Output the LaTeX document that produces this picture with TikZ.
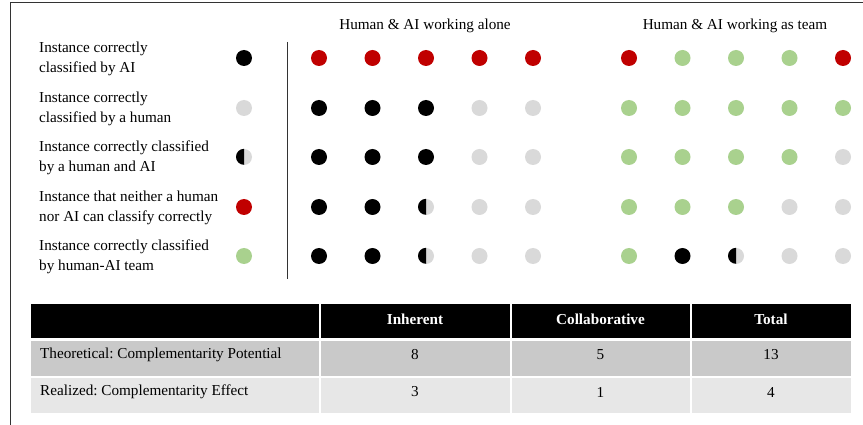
\documentclass[tikz,border=0pt]{standalone}
\usepackage{fontspec}
\setmainfont{Liberation Serif}
\frenchspacing
\definecolor{dred}{HTML}{C00000}
\definecolor{dgreen}{HTML}{A9D18E}
\definecolor{dgray}{HTML}{D9D9D9}
\definecolor{rowa}{HTML}{C9C9C9}
\definecolor{rowb}{HTML}{E7E7E7}
\newcommand{\fnt}{\fontsize{15.2}{20}\selectfont}
\tikzset{
  dot/.style={circle,inner sep=0pt,minimum size=16pt},
  K/.style={dot,fill=black},
  L/.style={dot,fill=dgray},
  R/.style={dot,fill=dred},
  G/.style={dot,fill=dgreen},
  H/.style={dot,fill=dgray},
  lbl/.style={anchor=west,align=left,inner sep=0pt,font=\fnt},
  hdr/.style={inner sep=0pt,font=\fnt},
  cell/.style={minimum height=34pt,inner sep=0pt,font=\fnt},
  hcell/.style={cell,text=white,font=\fnt\bfseries},
}
\newcommand{\halfdot}[3]{%
  \node[H] (#1) at (#2,#3) {};
  \fill[black] (#1.north) arc[start angle=90,end angle=270,radius=8pt] -- cycle;}
\begin{document}
\begin{tikzpicture}[x=1pt,y=-1pt]
\useasboundingbox (0,0) rectangle (863,425);
\fill[white] (0,0) rectangle (863,425);
% frame
\coordinate (fa) at (10,425);
\coordinate (fb) at (10,3);
\coordinate (fc) at (863,3);
\draw[line width=1pt,black!80] (fa) -- (fb) -- (fc);
% headers
\node[hdr] (h1) at (425,26) {Human \& AI working alone};
\node[hdr] (h2) at (735,26) {Human \& AI working as team};
% legend
\node[lbl] (l1) at (39,59) {Instance correctly\\classified by AI};
\node[lbl] (l2) at (39,109) {Instance correctly\\classified by a human};
\node[lbl] (l3) at (39,158) {Instance correctly classified\\by a human and AI};
\node[lbl] (l4) at (39,208) {Instance that neither a human\\nor AI can classify correctly};
\node[lbl] (l5) at (39,257) {Instance correctly classified\\by human-AI team};
\node[K] (d1) at (244,58) {};
\node[L] (d2) at (244,108) {};
\halfdot{d3}{244}{157}
\node[R] (d4) at (244,207) {};
\node[G] (d5) at (244,256) {};
% separator
\coordinate (sa) at (287,42);
\coordinate (sb) at (287,279);
\draw[line width=1pt,black!80] (sa) -- (sb);
% alone grid
\foreach \s [count=\i] in {R,R,R,R,R}{\node[\s] (a1\i) at ({319+53.5*(\i-1)},58) {};}
\foreach \s [count=\i] in {K,K,K,L,L}{\node[\s] (a2\i) at ({319+53.5*(\i-1)},108) {};}
\foreach \s [count=\i] in {K,K,K,L,L}{\node[\s] (a3\i) at ({319+53.5*(\i-1)},157) {};}
\node[K] (a41) at (319,207) {};
\node[K] (a42) at (372.5,207) {};
\halfdot{a43}{426}{207}
\node[L] (a44) at (479.5,207) {};
\node[L] (a45) at (533,207) {};
\node[K] (a51) at (319,256) {};
\node[K] (a52) at (372.5,256) {};
\halfdot{a53}{426}{256}
\node[L] (a54) at (479.5,256) {};
\node[L] (a55) at (533,256) {};
% team grid
\foreach \s [count=\i] in {R,G,G,G,R}{\node[\s] (t1\i) at ({629+53.5*(\i-1)},58) {};}
\foreach \s [count=\i] in {G,G,G,G,G}{\node[\s] (t2\i) at ({629+53.5*(\i-1)},108) {};}
\foreach \s [count=\i] in {G,G,G,G,L}{\node[\s] (t3\i) at ({629+53.5*(\i-1)},157) {};}
\foreach \s [count=\i] in {G,G,G,L,L}{\node[\s] (t4\i) at ({629+53.5*(\i-1)},207) {};}
\node[G] (t51) at (629,256) {};
\node[K] (t52) at (682.5,256) {};
\halfdot{t53}{736}{256}
\node[L] (t54) at (789.5,256) {};
\node[L] (t55) at (843,256) {};
% table
\fill[black] (31,304) rectangle (318.5,338);
\fill[black] (320.5,304) rectangle (509.5,338);
\fill[black] (511.5,304) rectangle (689.5,338);
\fill[black] (691.5,304) rectangle (851,338);
\fill[rowa] (31,341) rectangle (318.5,376);
\fill[rowa] (320.5,341) rectangle (509.5,376);
\fill[rowa] (511.5,341) rectangle (689.5,376);
\fill[rowa] (691.5,341) rectangle (851,376);
\fill[rowb] (31,378) rectangle (318.5,413);
\fill[rowb] (320.5,378) rectangle (509.5,413);
\fill[rowb] (511.5,378) rectangle (689.5,413);
\fill[rowb] (691.5,378) rectangle (851,413);
\node[hcell] (c12) at (415,319) {Inherent};
\node[hcell] (c13) at (600.5,319) {Collaborative};
\node[hcell] (c14) at (771,319) {Total};
\node[cell,anchor=west] (c21) at (40,355) {Theoretical: Complementarity Potential};
\node[cell] (c22) at (415,355) {8};
\node[cell] (c23) at (600.5,355) {5};
\node[cell] (c24) at (771,355) {13};
\node[cell,anchor=west] (c31) at (40,392) {Realized: Complementarity Effect};
\node[cell] (c32) at (415,392) {3};
\node[cell] (c33) at (600.5,392) {1};
\node[cell] (c34) at (771,392) {4};
\end{tikzpicture}
\end{document}
